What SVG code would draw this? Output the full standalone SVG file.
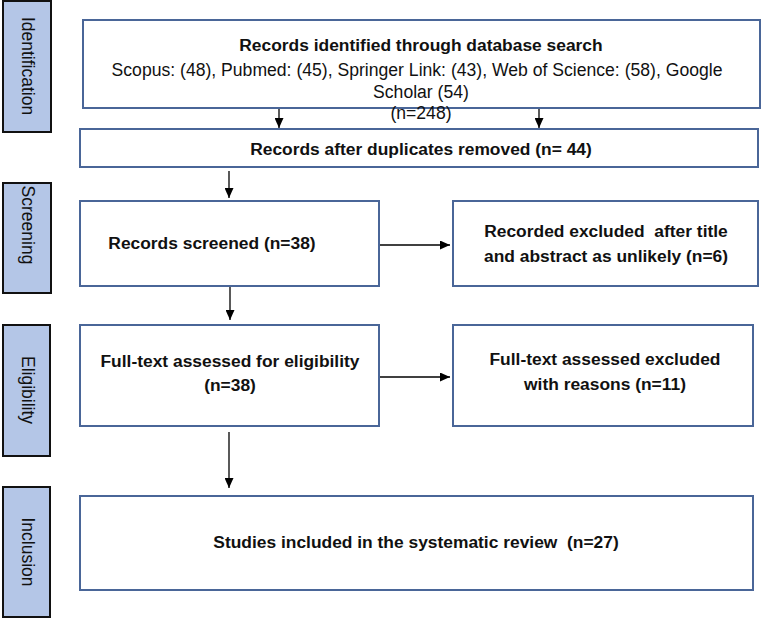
<svg xmlns="http://www.w3.org/2000/svg" width="762" height="620" viewBox="0 0 762 620">
<style>
.stage{fill:#b4c6e7;stroke:#111;stroke-width:2}
.box{fill:#fff;stroke:#4a6698;stroke-width:2}
.st{font-family:"Liberation Sans",Arial,sans-serif;font-size:17.5px;fill:#111;text-anchor:middle}
.b{font-family:"Liberation Sans",Arial,sans-serif;font-size:17.4px;font-weight:bold;fill:#111;text-anchor:middle;white-space:pre}
.r{font-family:"Liberation Sans",Arial,sans-serif;font-size:17.6px;fill:#111;text-anchor:middle}
.c{stroke:#000;stroke-width:1.3;fill:none;marker-end:url(#ah)}
</style>
<defs>
<marker id="ah" markerUnits="userSpaceOnUse" markerWidth="10" markerHeight="9" refX="10" refY="4.5" orient="auto">
<path d="M0,0 L10,4.5 L0,9 z" fill="#000"/>
</marker>
</defs>
<rect width="762" height="620" fill="#fff"/>
<g id="stage-identification"><rect class="stage" x="3" y="1" width="48" height="131"/><text class="st" transform="translate(22,66) rotate(90)">Identification</text></g>
<g id="stage-screening"><rect class="stage" x="3" y="183" width="48" height="110"/><text class="st" transform="translate(22,225) rotate(90)">Screening</text></g>
<g id="stage-eligibility"><rect class="stage" x="3" y="325" width="47" height="131"/><text class="st" transform="translate(22,390) rotate(90)">Eligibility</text></g>
<g id="stage-inclusion"><rect class="stage" x="3" y="487" width="47" height="130"/><text class="st" transform="translate(22,552) rotate(90)">Inclusion</text></g>
<g id="identified"><rect class="box" x="83" y="20" width="677" height="88"/>
<text class="b" x="421" y="51">Records identified through database search</text>
<text class="r" x="417" y="76">Scopus: (48), Pubmed: (45), Springer Link: (43), Web of Science: (58), Google</text>
<text class="r" x="421" y="98">Scholar (54)</text>
<text class="r" x="421" y="119">(n=248)</text></g>
<g id="duplicates"><rect class="box" x="80" y="129" width="678" height="38"/><text class="b" x="421" y="155">Records after duplicates removed (n= 44)</text></g>
<g id="screened"><rect class="box" x="80" y="201" width="299" height="85"/><text class="b" x="212" y="249">Records screened (n=38)</text></g>
<g id="excluded1"><rect class="box" x="453" y="201" width="305" height="85"/><text class="b" x="606" y="237">Recorded excluded  after title</text><text class="b" x="606" y="262">and abstract as unlikely (n=6)</text></g>
<g id="fulltext"><rect class="box" x="80" y="325" width="299" height="101"/><text class="b" x="230" y="367">Full-text assessed for eligibility</text><text class="b" x="230" y="391">(n=38)</text></g>
<g id="excluded2"><rect class="box" x="453" y="325" width="300" height="101"/><text class="b" x="605" y="365">Full-text assessed excluded</text><text class="b" x="605" y="390">with reasons (n=11)</text></g>
<g id="included"><rect class="box" x="80" y="496" width="673" height="94"/><text class="b" x="416" y="548">Studies included in the systematic review  (n=27)</text></g>
<g id="connectors">
<line class="c" x1="279" y1="109" x2="279" y2="128"/>
<line class="c" x1="539" y1="109" x2="539" y2="128"/>
<line class="c" x1="229" y1="171" x2="229" y2="198"/>
<line class="c" x1="230" y1="287" x2="230" y2="320"/>
<line class="c" x1="229" y1="432" x2="229" y2="488"/>
<line class="c" x1="380" y1="245" x2="450" y2="245"/>
<line class="c" x1="380" y1="377" x2="450" y2="377"/>
</g>
</svg>
